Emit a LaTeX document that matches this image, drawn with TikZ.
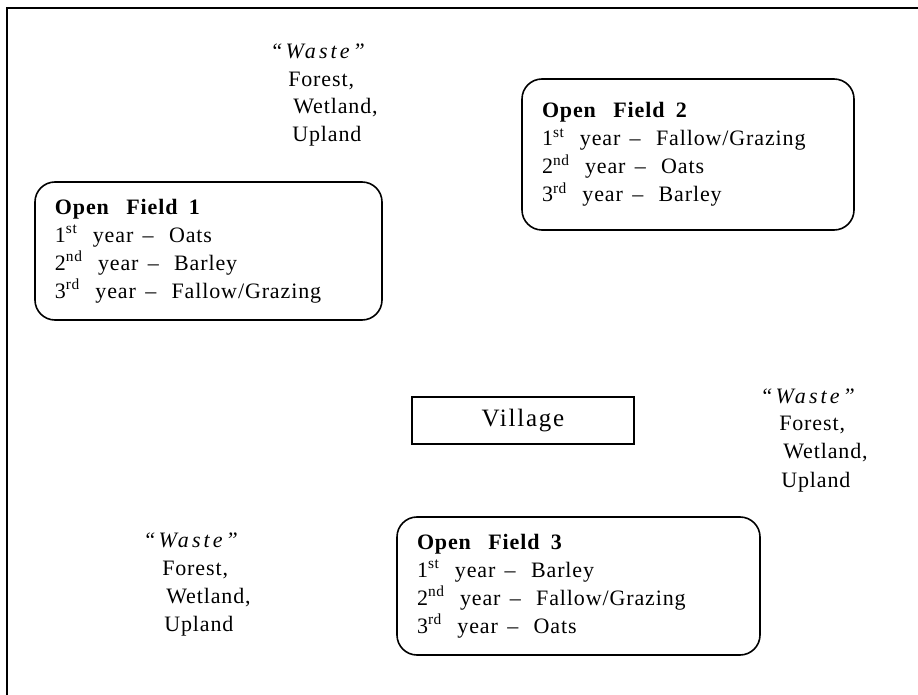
\documentclass[tikz,border=0pt]{standalone}
\usepackage{fontspec}
\setmainfont{Liberation Serif}[LetterSpace=4]
\newfontfamily\villagefont{Liberation Serif}[LetterSpace=7]
\newfontfamily\wastefont{Liberation Serif Italic}[LetterSpace=14]
% word gaps of the field lists
\newcommand\gapwide{\hspace{11.5pt}}
\newcommand\gapnarrow{\hspace{7pt}}
% one line of a rotation: ordinal, suffix, crop
\newcommand\rot[3]{#1\textsuperscript{#2}\gapwide year\gapnarrow\textendash\gapwide #3}

\begin{document}
\begin{tikzpicture}[x=0.75pt, y=-0.75pt,
  field/.style={draw, line width=1.2pt, rounded corners=15pt, align=left,
    inner xsep=15pt, inner ysep=0pt, font=\fontsize{16.5}{21}\selectfont},
  wasteline/.style={anchor=base west, inner sep=0pt,
    font=\fontsize{16.5}{21}\selectfont},
  villagebox/.style={draw, line width=1.1pt, inner sep=0pt,
    font=\fontsize{18.75}{22}\villagefont}]
\useasboundingbox (0,0) rectangle (918,695);

% page frame (top and left edges)
\coordinate (frameTL) at (7,8);
\coordinate (frameTR) at (918,8);
\coordinate (frameBL) at (7,695);
\draw[line width=1.3pt] (frameBL) -- (frameTL) -- (frameTR);

% the three open fields
\node[field, text width=230.25pt, minimum height=103.5pt] (field1) at (208.5,251)
  {\textbf{Open\hspace{13pt}Field\hspace{8.5pt}1}\\
   \rot{1}{st}{Oats}\\
   \rot{2}{nd}{Barley}\\
   \rot{3}{rd}{Fallow/Grazing}};

\node[field, text width=219pt, minimum height=113.25pt] (field2) at (688,154.5)
  {\textbf{Open\hspace{13pt}Field\hspace{8.5pt}2}\\
   \rot{1}{st}{Fallow/Grazing}\\
   \rot{2}{nd}{Oats}\\
   \rot{3}{rd}{Barley}};

\node[field, text width=242.25pt, minimum height=103.5pt] (field3) at (578.5,586)
  {\textbf{Open\hspace{13pt}Field\hspace{8.5pt}3}\\
   \rot{1}{st}{Barley}\\
   \rot{2}{nd}{Fallow/Grazing}\\
   \rot{3}{rd}{Oats}};

% the village
\node[villagebox, minimum width=166.5pt, minimum height=35.25pt] (village) at (523,420.5) {Village};

% waste land, north
\node[wasteline] (wasteA)  at (270,59)  {\wastefont “Waste”};
\node[wasteline] (wasteA1) at (288,87)  {Forest,};
\node[wasteline] (wasteA2) at (293,114) {Wetland,};
\node[wasteline] (wasteA3) at (292,142) {Upland};

% waste land, east
\node[wasteline] (wasteB)  at (760,403) {\wastefont “Waste”};
\node[wasteline] (wasteB1) at (779,431) {Forest,};
\node[wasteline] (wasteB2) at (783,458) {Wetland,};
\node[wasteline] (wasteB3) at (781,487) {Upland};

% waste land, south-west
\node[wasteline] (wasteC)  at (143,547) {\wastefont “Waste”};
\node[wasteline] (wasteC1) at (162,575) {Forest,};
\node[wasteline] (wasteC2) at (166,603) {Wetland,};
\node[wasteline] (wasteC3) at (164,631) {Upland};
\end{tikzpicture}
\end{document}
